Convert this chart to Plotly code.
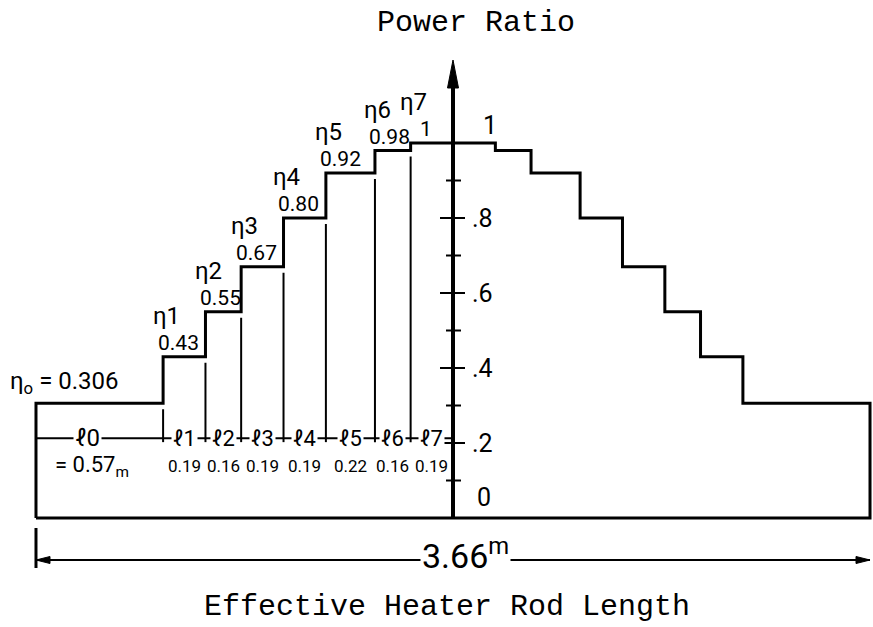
import plotly.graph_objects as go

# Axial power profile of the heater rod (symmetric about mid-height)
SEGMENT_NAMES = ["ℓ0", "ℓ1", "ℓ2", "ℓ3", "ℓ4", "ℓ5", "ℓ6", "ℓ7"]
SEGMENT_LENGTHS = [0.57, 0.19, 0.16, 0.19, 0.19, 0.22, 0.16, 0.19]  # m, half-rod
LENGTH_LABELS = ["0.57", "0.19", "0.16", "0.19", "0.19", "0.22", "0.16", "0.19"]
STEP_NAMES = ["η", "η1", "η2", "η3", "η4", "η5", "η6", "η7"]
POWER_RATIO = [0.306, 0.43, 0.55, 0.67, 0.80, 0.92, 0.98, 1.0]
RATIO_LABELS = ["0.306", "0.43", "0.55", "0.67", "0.80", "0.92", "0.98", "1"]
TOTAL_LENGTH_LABEL = "3.66"
MAJOR_TICKS = [0.2, 0.4, 0.6, 0.8]
MAJOR_TICK_LABELS = [".2", ".4", ".6", ".8"]
MINOR_TICKS = [0.1, 0.3, 0.5, 0.7, 0.9]
DIM_ROW = 0.213          # height of the ℓ dimension chain
TOTAL_DIM_ROW = -0.112   # height of the overall length dimension

W, H = 873, 627
PX_PER_M = 223.0
PX_PER_UNIT = 375.0
AXIS_PX = 453.0
ZERO_PX = 518.0
X_RANGE = [-AXIS_PX / PX_PER_M, (W - AXIS_PX) / PX_PER_M]
Y_RANGE = [-(H - ZERO_PX) / PX_PER_UNIT, ZERO_PX / PX_PER_UNIT]


def dx(px):
    return px / PX_PER_M


def dy(px):
    return px / PX_PER_UNIT


BLACK = "#000000"
DIN = "Roboto, 'DejaVu Sans', sans-serif"
MONO = "'Liberation Mono', 'Courier New', monospace"

# boundaries of the steps on the left half; last one sits on the axis
half = sum(SEGMENT_LENGTHS)
bounds = [-half]
for seg in SEGMENT_LENGTHS:
    bounds.append(bounds[-1] + seg)
bounds[-1] = 0.0

# stepped outline: left edge, rising steps, falling mirrored steps, right edge
xs, ys = [bounds[0]], [0.0]
for k, r in enumerate(POWER_RATIO):
    xs += [bounds[k], bounds[k + 1]]
    ys += [r, r]
for k in range(len(POWER_RATIO) - 1, -1, -1):
    xs += [-bounds[k + 1], -bounds[k]]
    ys += [POWER_RATIO[k], POWER_RATIO[k]]
xs += [-bounds[0], bounds[0]]
ys += [0.0, 0.0]

fig = go.Figure()
fig.add_trace(go.Scatter(x=xs, y=ys, mode="lines",
                         line=dict(color=BLACK, width=3), hoverinfo="skip",
                         showlegend=False))

shapes = []


def seg_line(x0, y0, x1, y1, w=2):
    shapes.append(dict(type="line", xref="x", yref="y", x0=x0, y0=y0,
                       x1=x1, y1=y1, line=dict(color=BLACK, width=w)))


def tri(points):
    path = "M " + " L ".join(f"{px},{py}" for px, py in points) + " Z"
    shapes.append(dict(type="path", xref="x", yref="y", path=path,
                       fillcolor=BLACK, line=dict(color=BLACK, width=1)))


# extension lines down to the dimension chain
for k in range(1, len(bounds) - 1):
    seg_line(bounds[k], POWER_RATIO[k - 1] - dy(6), bounds[k], DIM_ROW - dy(4))
# dimension chain
seg_line(bounds[0], DIM_ROW, 0.0, DIM_ROW)

# vertical power-ratio axis with arrow
axis_top = Y_RANGE[1] - dy(60)
seg_line(0.0, 0.0, 0.0, axis_top - dy(20), w=4)
tri([(0.0, axis_top), (-dx(5.5), axis_top - dy(28)), (dx(5.5), axis_top - dy(28))])
for t in MAJOR_TICKS:
    seg_line(-dx(13), t, dx(12), t, w=2)
for t in MINOR_TICKS:
    seg_line(-dx(7), t, dx(8), t, w=2)

# overall length dimension
seg_line(bounds[0], TOTAL_DIM_ROW, -bounds[0], TOTAL_DIM_ROW, w=2)
seg_line(bounds[0], TOTAL_DIM_ROW + dy(32), bounds[0], TOTAL_DIM_ROW - dy(8), w=3)
tri([(bounds[0], TOTAL_DIM_ROW), (bounds[0] + dx(14), TOTAL_DIM_ROW + dy(3.5)),
     (bounds[0] + dx(14), TOTAL_DIM_ROW - dy(3.5))])
tri([(-bounds[0], TOTAL_DIM_ROW), (-bounds[0] - dx(14), TOTAL_DIM_ROW + dy(3.5)),
     (-bounds[0] - dx(14), TOTAL_DIM_ROW - dy(3.5))])

ann = []


def text(x, y, s, size, family=DIN, xanchor="center", yanchor="middle",
         xshift=0, yshift=0, bg=None):
    a = dict(x=x, y=y, xref="x", yref="y", text=s, showarrow=False,
             font=dict(family=family, size=size, color=BLACK),
             xanchor=xanchor, yanchor=yanchor, xshift=xshift, yshift=yshift)
    if bg:
        a.update(bgcolor=bg, borderpad=1)
    ann.append(a)


# step values and names
for k in range(1, len(POWER_RATIO)):
    text(bounds[k], POWER_RATIO[k], RATIO_LABELS[k], 21,
         xshift=15, yanchor="bottom", yshift=0)
    text(bounds[k], POWER_RATIO[k], STEP_NAMES[k], 24,
         xshift=3, yshift=41)
text(bounds[0], POWER_RATIO[0], f"{STEP_NAMES[0]}<sub>o</sub> = {RATIO_LABELS[0]}",
     24, xanchor="left", xshift=-28, yshift=21)

# segment names and lengths
for k, name in enumerate(SEGMENT_NAMES):
    cx = (bounds[k] + bounds[k + 1]) / 2
    if k == 0:
        cx -= dx(12)
    text(cx, DIM_ROW, name, 22 if k else 24, bg="white")
    lab = LENGTH_LABELS[k] if k else f"= {LENGTH_LABELS[k]}<sub>m</sub>"
    text(cx if k else cx + dx(4), DIM_ROW, lab, 17 if k else 22, yshift=-28)

# axis labels
for t, lab in zip(MAJOR_TICKS, MAJOR_TICK_LABELS):
    text(0.0, t, lab, 25, xanchor="left", xshift=17)
text(0.0, 0.0, "0", 25, xanchor="left", xshift=22, yshift=21)
text(0.0, 1.0, "1", 25, xanchor="left", xshift=28, yanchor="bottom", yshift=1)

# overall length
text(0.0, TOTAL_DIM_ROW, f"{TOTAL_LENGTH_LABEL}<sup>m</sup>", 34,
     xshift=12, yshift=6, bg="white")

# titles
text(dx(23), Y_RANGE[1] - dy(23), "Power Ratio", 30, family=MONO)
text(-dx(6), Y_RANGE[0] + dy(20), "Effective Heater Rod Length", 30, family=MONO)

fig.update_layout(
    width=W, height=H, margin=dict(l=0, r=0, t=0, b=0),
    paper_bgcolor="white", plot_bgcolor="white",
    xaxis=dict(range=X_RANGE, visible=False, fixedrange=True),
    yaxis=dict(range=Y_RANGE, visible=False, fixedrange=True),
    shapes=shapes, annotations=ann, showlegend=False,
)
fig.write_html("out.html")
